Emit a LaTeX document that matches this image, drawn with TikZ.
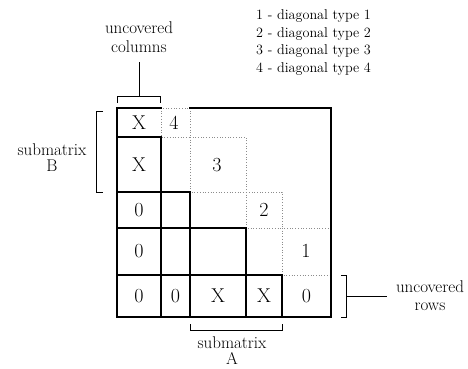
\documentclass[tikz,border=0pt]{standalone}
\begin{document}
\begin{tikzpicture}[x=1pt,y=-1pt,
  grid/.style={line width=1.3pt, line cap=rect},
  diag/.style={dotted, line width=0.7pt, black!45},
  brk/.style={line width=0.8pt},
  entry/.style={font=\fontsize{20}{24}\selectfont, inner sep=0pt},
  lbl/.style={align=center, inner sep=0pt, anchor=north},
  legend/.style={font=\fontsize{14.2}{17}\selectfont, inner sep=0pt, anchor=base west}]
\useasboundingbox (0,0) rectangle (468,368);

% legend
\node[legend] (leg1) at (256,19.5) {1 - diagonal type 1};
\node[legend] (leg2) at (256,37)   {2 - diagonal type 2};
\node[legend] (leg3) at (256,54.5) {3 - diagonal type 3};
\node[legend] (leg4) at (256,72)   {4 - diagonal type 4};

% diagonal regions (dotted outlines)
\draw[diag] (161,108) rectangle (190,137);
\draw[diag] (190,137) rectangle (246,192);
\draw[diag] (246,192) rectangle (282,228);
\draw[diag] (282,228) rectangle (331,275);

% staircase of cells
\draw[grid] (161,108) -- (117,108) -- (117,317) -- (331,317) -- (331,108) -- (190,108);
\draw[grid] (161,137) -- (161,317);
\draw[grid] (117,137) -- (161,137);
\draw[grid] (117,192) -- (190,192) -- (190,317);
\draw[grid] (117,228) -- (246,228) -- (246,317);
\draw[grid] (117,275) -- (282,275) -- (282,317);

% cell entries
\node[entry] (c00) at (139,122.5) {X};
\node[entry] (c10) at (139,164.5) {X};
\node[entry] (c20) at (139,210)   {0};
\node[entry] (c30) at (139,251.5) {0};
\node[entry] (c40) at (139,296)   {0};
\node[entry] (c41) at (175.5,296) {0};
\node[entry] (c42) at (218,296)   {X};
\node[entry] (c43) at (264,296)   {X};
\node[entry] (c44) at (306.5,296) {0};

% diagonal type numbers
\node[entry] (d4) at (174,123) {4};
\node[entry] (d3) at (217,165) {3};
\node[entry] (d2) at (264,210) {2};
\node[entry] (d1) at (306,251) {1};

% labels
\node[lbl, font=\fontsize{17}{19}\selectfont] (collbl) at (139,21) {uncovered\\columns};
\node[lbl, font=\fontsize{17}{16}\selectfont] (blbl) at (52,143) {submatrix\\B};
\node[lbl, font=\fontsize{17}{16}\selectfont] (albl) at (232,336) {submatrix\\A};
\node[lbl, font=\fontsize{17}{18}\selectfont] (rowlbl) at (430,280) {uncovered\\rows};

% brackets
\coordinate (cbr) at (139,96);
\coordinate (rbr) at (346,296);
\draw[brk] (117,103) -- (117,96) -- (160,96) -- (160,103);
\draw[brk, shorten >=10pt] (cbr) -- (collbl.south);
\draw[brk] (103,111) -- (96,111) -- (96,192) -- (103,192);
\draw[brk] (190,324) -- (190,330) -- (282,330) -- (282,324);
\draw[brk] (341,275) -- (346,275) -- (346,317) -- (341,317);
\draw[brk, shorten >=9pt] (rbr) -- (rowlbl.west |- rbr);
\end{tikzpicture}
\end{document}
